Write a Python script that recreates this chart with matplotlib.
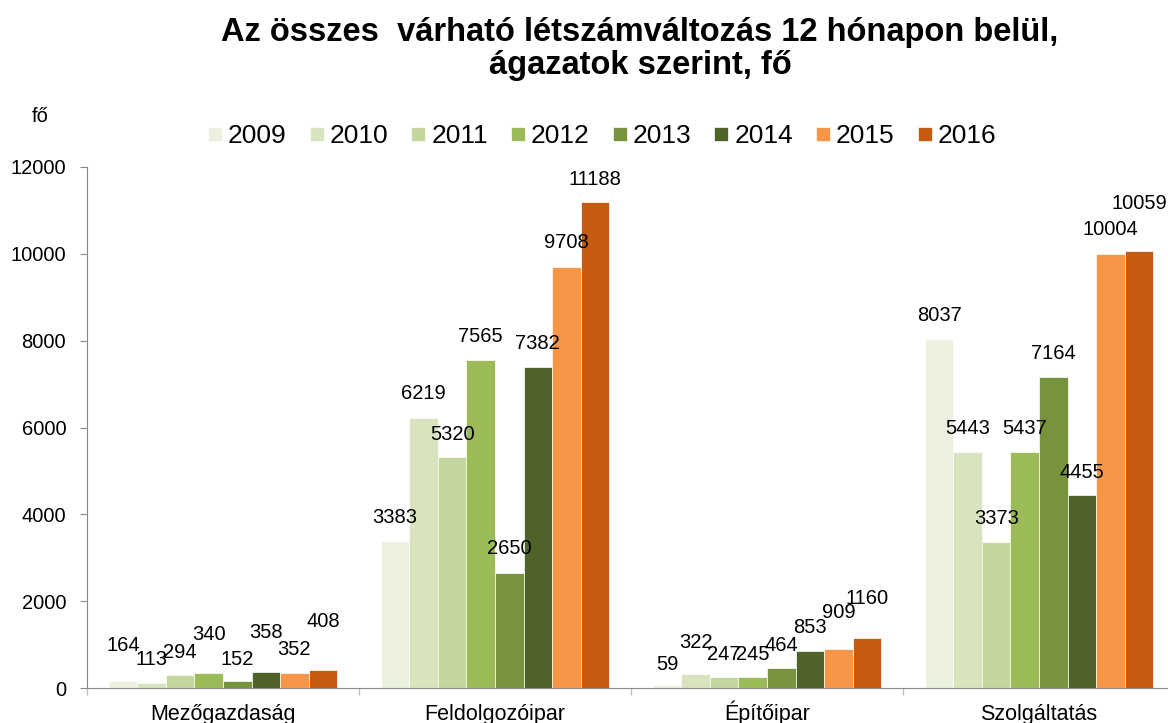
import numpy as np
import matplotlib
matplotlib.use("Agg")
import matplotlib.pyplot as plt

plt.rcParams['font.family'] = ['Liberation Sans', 'DejaVu Sans']

# data
categories = ['Mezőgazdaság', 'Feldolgozóipar', 'Építőipar', 'Szolgáltatás']
years = ['2009', '2010', '2011', '2012', '2013', '2014', '2015', '2016']
mezogazdasag = [164, 113, 294, 340, 152, 358, 352, 408]
feldolgozoipar = [3383, 6219, 5320, 7565, 2650, 7382, 9708, 11188]
epitoipar = [59, 322, 247, 245, 464, 853, 909, 1160]
szolgaltatas = [8037, 5443, 3373, 5437, 7164, 4455, 10004, 10059]
yticks = [0, 2000, 4000, 6000, 8000, 10000, 12000]

colors = ['#EBF1DE', '#D7E4BD', '#C3D69B', '#9BBB59', '#77933C', '#4F6228', '#F79646', '#C55A11']

# how far (px) each label sits above its bar, hand placed like in the original
lifts = [[35, 24, 23, 39, 22, 40, 23, 49],
         [24, 24, 23, 23, 24, 24, 24, 23],
         [21, 32, 23, 23, 22, 23, 36, 39],
         [24, 23, 23, 23, 23, 22, 24, 48]]

table = np.array([mezogazdasag, feldolgozoipar, epitoipar, szolgaltatas])

fig = plt.figure(figsize=(11.68, 7.23), dpi=100)
ax = fig.add_axes([87/1168, 35/723, 1088/1168, 521/723])

x = np.arange(len(categories))
w = 0.105
for i, yr in enumerate(years):
    b = ax.bar(x + (i - 3.5)*w, table[:, i], width=w, color=colors[i],
               edgecolor='white', linewidth=0.5, label=yr)
    for j, rect in enumerate(b):
        ax.annotate(str(table[j, i]), (rect.get_x() + rect.get_width()/2, rect.get_height()),
                    xytext=(0, lifts[j][i]), textcoords='offset pixels',
                    ha='center', va='center', fontsize=14.5)

ax.set_xlim(-0.5, 3.5)
ax.set_ylim(0, 12000)
ax.set_yticks(yticks)
ax.set_yticklabels([str(v) for v in yticks], fontsize=14.5)
ax.set_xticks(x)
ax.set_xticklabels(categories, fontsize=15.5, va='baseline')
ax.set_xticks([-0.5, 0.5, 1.5, 2.5], minor=True)
ax.tick_params(axis='x', which='major', length=0, pad=23)
ax.tick_params(axis='x', which='minor', length=5, color='#BFBFBF', width=1)
ax.tick_params(axis='y', length=5, color='#898989', pad=10)

for s in ['top', 'right']:
    ax.spines[s].set_visible(False)
ax.spines['left'].set_color('#898989')
ax.spines['bottom'].set_color('#898989')

fig.text(40/1168, 1 - 117/723, 'fő', fontsize=14.5, ha='center', va='center')

fig.text(640/1168, 1 - 49/723, 'Az összes  várható létszámváltozás 12 hónapon belül,\nágazatok szerint, fő',
         fontsize=23.5, fontweight='bold', ha='center', va='center', linespacing=1.05)

leg = fig.legend(loc='center', bbox_to_anchor=(602/1168, 1 - 136/723), ncol=8, frameon=False,
                 fontsize=19, handlelength=0.53, handleheight=0.45, handletextpad=0.23,
                 columnspacing=0.87, borderpad=0)

fig.savefig('out.png', dpi=100)
